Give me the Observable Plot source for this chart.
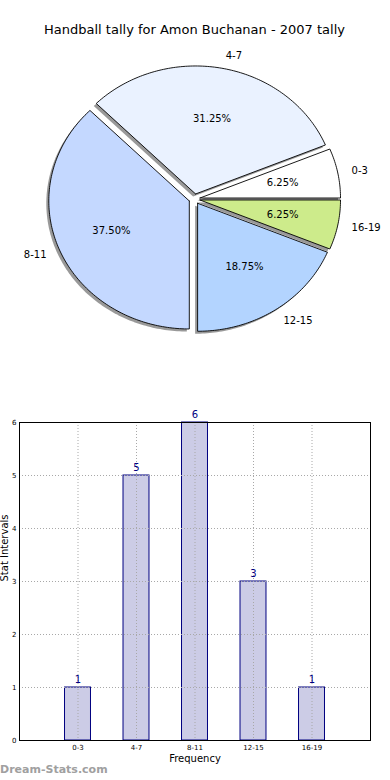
<!DOCTYPE html>
<html>
<head>
<meta charset="utf-8">
<script src="https://cdn.jsdelivr.net/npm/d3@7"></script>
<script src="https://cdn.jsdelivr.net/npm/@observablehq/plot@0.6"></script>
<style>
  html, body { margin: 0; padding: 0; background: white; }
  #wrap { position: relative; width: 390px; height: 780px; overflow: hidden; font-family: "DejaVu Sans", sans-serif; }
  #title { position: absolute; left: 0; width: 389px; top: 22px; text-align: center; font-size: 13px; color: #000; }
  #pie { position: absolute; left: 0; top: 0; }
  #bar { position: absolute; left: 0; top: 390px; }
  #mark { position: absolute; left: 0px; top: 763px; font-size: 11px; font-weight: bold; color: #a0a0a0; }
</style>
</head>
<body>
<div id="wrap">
  <div id="pie"></div>
  <div id="title">Handball tally for Amon Buchanan - 2007 tally</div>
  <div id="bar"></div>
  <div id="mark">Dream-Stats.com</div>
</div>
<script>
const categories = ["0-3", "4-7", "8-11", "12-15", "16-19"];
const counts = [1, 5, 6, 3, 1];
const sliceColors = ["#ffffff", "#eaf2ff", "#c4d8ff", "#b3d4ff", "#cdeb8b"];
const yTicks = [0, 1, 2, 3, 4, 5, 6];

const total = d3.sum(counts);
const explode = 0.04;

// pie slice outlines in unit coordinates, derived from the counts
const slicePts = [];
const labelPts = [];
let acc = 0;
categories.forEach((c, i) => {
  const a0 = acc / total * 2 * Math.PI;
  const a1 = (acc + counts[i]) / total * 2 * Math.PI;
  acc += counts[i];
  const mid = (a0 + a1) / 2;
  const ex = explode * Math.cos(mid), ey = explode * Math.sin(mid);
  slicePts.push({cat: c, x: ex, y: ey});
  const n = Math.max(4, Math.ceil((a1 - a0) / (Math.PI / 180)));
  for (let k = 0; k <= n; k++) {
    const a = a0 + (a1 - a0) * k / n;
    slicePts.push({cat: c, x: ex + Math.cos(a), y: ey + Math.sin(a)});
  }
  slicePts.push({cat: c, x: ex, y: ey});
  labelPts.push({
    cat: c,
    pct: (counts[i] / total * 100).toFixed(2) + "%",
    lx: ex + 1.1 * Math.cos(mid), ly: ey + 1.1 * Math.sin(mid),
    px: ex + 0.6 * Math.cos(mid), py: ey + 0.6 * Math.sin(mid),
    right: Math.cos(mid) >= 0
  });
});

const cx = 194, cy = 198.5, rx = 140.5, ry = 128;
const pie = Plot.plot({
  width: 390, height: 390,
  margin: 0,
  style: {fontFamily: "DejaVu Sans", background: "transparent", overflow: "visible", fontSize: "10px"},
  x: {domain: [-1, 1], range: [cx - rx, cx + rx], axis: null},
  y: {domain: [-1, 1], range: [cy + ry, cy - ry], axis: null},
  color: {domain: categories, range: sliceColors},
  marks: [
    Plot.line(slicePts, {x: "x", y: "y", z: "cat", fill: "#333", fillOpacity: 0.5, stroke: "none", dx: -2.5, dy: 2.5}),
    Plot.line(slicePts, {x: "x", y: "y", z: "cat", fill: "cat", stroke: "black", strokeWidth: 0.9, strokeLinejoin: "miter", strokeMiterlimit: 4}),
    Plot.text(labelPts, {x: "px", y: "py", text: "pct", fontSize: 10, fill: "black"}),
    Plot.text(labelPts.filter(d => d.right), {x: "lx", y: "ly", text: "cat", textAnchor: "start", fontSize: 10, fill: "black"}),
    Plot.text(labelPts.filter(d => !d.right), {x: "lx", y: "ly", text: "cat", textAnchor: "end", fontSize: 10, fill: "black"})
  ]
});
document.getElementById("pie").appendChild(pie);

const barData = categories.map((c, i) => ({cat: c, count: counts[i]}));
const bar = Plot.plot({
  width: 390, height: 390,
  marginLeft: 19, marginRight: 20, marginTop: 32, marginBottom: 40,
  style: {fontFamily: "DejaVu Sans", background: "transparent", overflow: "visible"},
  x: {type: "band", domain: categories, paddingInner: 0.556, paddingOuter: 0.778, align: 0.5, round: false, axis: null},
  y: {domain: [0, 6], axis: null},
  marks: [
    Plot.barY(barData, {x: "cat", y: "count", fill: "#ccccE6", stroke: "#000080", strokeWidth: 1}),
    Plot.ruleX(categories, {x: d => d, stroke: "#a8a8a8", strokeDasharray: "1,2", strokeWidth: 1}),
    Plot.ruleY(yTicks.slice(1, -1), {y: d => d, stroke: "#a8a8a8", strokeDasharray: "1,2", strokeWidth: 1}),
    Plot.frame({stroke: "black", strokeWidth: 1}),
    Plot.axisX({fontSize: 7, tickSize: 0, tickPadding: 5, label: null, fill: "black"}),
    Plot.axisY({ticks: yTicks, tickFormat: d3.format("d"), fontSize: 7, tickSize: 0, tickPadding: 3, label: null, fill: "black"}),
    Plot.text(barData, {x: "cat", y: "count", text: d => String(d.count), dy: -5, lineAnchor: "bottom", fill: "#000080", fontSize: 10}),
    Plot.text(["Stat Intervals"], {frameAnchor: "left", rotate: -90, dx: -15, fontSize: 10, fill: "black"}),
    Plot.text(["Frequency"], {frameAnchor: "bottom", dy: 21, fontSize: 10, fill: "black"})
  ]
});
document.getElementById("bar").appendChild(bar);
</script>
</body>
</html>
